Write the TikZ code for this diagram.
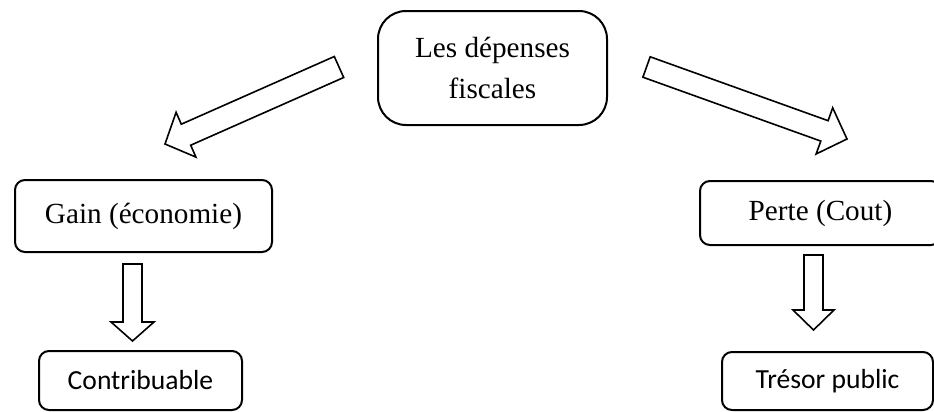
\documentclass[tikz,border=0pt]{standalone}
\usepackage{fontspec}
\setmainfont{Liberation Serif}
\newfontfamily\calfont{Carlito}
\usetikzlibrary{positioning}

\tikzset{
  bigbox/.style={draw, line width=1pt, rounded corners=14pt, align=center,
    font=\fontsize{14.6}{20.5}\selectfont},
  serifbox/.style={draw, line width=1pt, rounded corners=5pt,
    font=\fontsize{14.6}{18}\selectfont},
  calbox/.style={draw, line width=1pt, rounded corners=5pt,
    font=\calfont\fontsize{13.8}{16}\selectfont},
  fatarrow/.style={draw, line width=0.8pt, line join=miter}
}

\begin{document}
\begin{tikzpicture}[x=0.5pt, y=-0.5pt]

\useasboundingbox (0,0) rectangle (934,412);
\clip (0,0) rectangle (934,412);

%Draw boxes
\node[bigbox, minimum width=114.5pt, minimum height=57pt] (depenses) at (492.5,68) {Les dépenses\\fiscales};
\node[serifbox, minimum width=128.5pt, minimum height=36pt] (gain) at (143.5,216) {Gain (économie)};
\node[serifbox, minimum width=120.5pt, minimum height=32pt] (perte) at (820.5,213) {Perte (Cout)};
\node[calbox, minimum width=101.5pt, minimum height=29.5pt] (contrib) at (140.5,380.5) {Contribuable};
\node[calbox, minimum width=105.5pt, minimum height=29pt] (tresor) at (827.5,381) {Trésor public};

%Draw slanted arrows
\draw[fatarrow] (334.3,56.5) -- (181.3,124.2) -- (176.1,112.3) -- (165,144)
  -- (195.9,157.1) -- (190.7,145.2) -- (343.7,77.5) -- cycle;

\draw[fatarrow] (650.2,56.8) -- (828.1,120.7) -- (832.7,107.8) -- (847,139)
  -- (816.1,154.0) -- (820.8,141.1) -- (642.9,77.2) -- cycle;

%Draw down arrows
\coordinate (gtop) at (132.5,264);
\coordinate (ptop) at (813.5,255);

\draw[fatarrow] (gtop) ++(-9.5,0) -- ++(0,58) -- ++(-12,0) -- ++(21.5,19)
  -- ++(21.5,-19) -- ++(-12,0) -- ++(0,-58) -- cycle;

\draw[fatarrow] (ptop) ++(-9.5,0) -- ++(0,55) -- ++(-11,0) -- ++(20.5,20)
  -- ++(20.5,-20) -- ++(-11,0) -- ++(0,-55) -- cycle;

\end{tikzpicture}
\end{document}
